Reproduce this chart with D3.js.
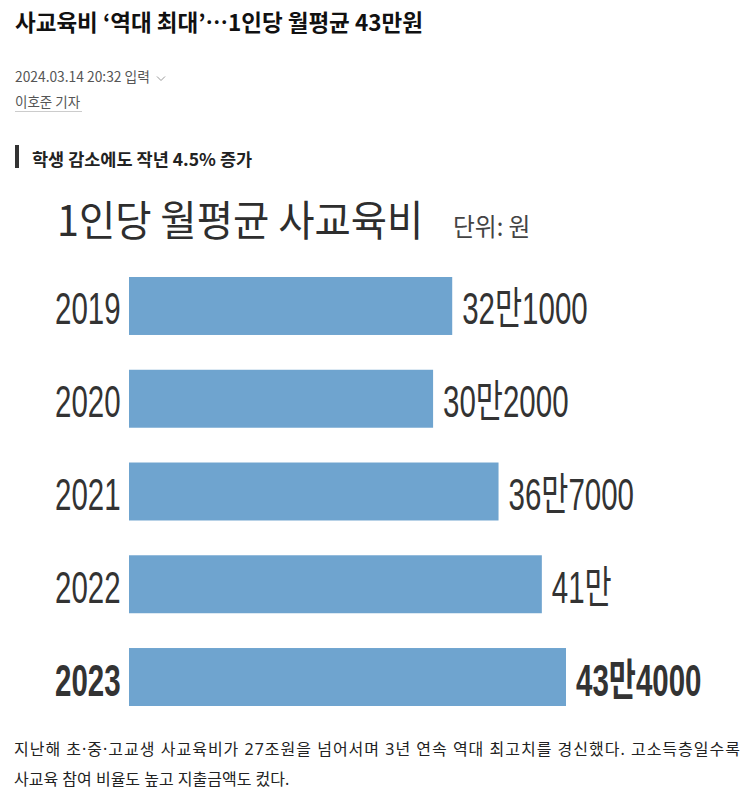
<!DOCTYPE html>
<html>
<head>
<meta charset="utf-8">
<style>
body { margin: 0; background: #fff; }
svg { display: block; }
text { font-family: "Noto Sans CJK KR", "Noto Sans", sans-serif; }
.num { font-family: "Liberation Sans", "Noto Sans CJK KR", sans-serif; fill: #333; }
.body { font-family: "Noto Sans", "Noto Sans CJK KR", sans-serif; }
.bar { fill: #6fa4cf; }
</style>
</head>
<body>
<svg width="746" height="802"></svg>
<script src="https://cdn.jsdelivr.net/npm/d3@7"></script>
<script>

// chart data
var years = ["2019", "2020", "2021", "2022", "2023"];
var spending = [321000, 302000, 367000, 410000, 434000];   // 1인당 월평균, 원
var valueLabels = ["32만1000", "30만2000", "36만7000", "41만", "43만4000"];
var highlightYear = "2023";

var headline = "사교육비 ‘역대 최대’…1인당 월평균 43만원";
var dateline = "2024.03.14 20:32 입력";
var byline = "이호준 기자";
var subhead = "학생 감소에도 작년 4.5% 증가";
var chartTitle = "1인당 월평균 사교육비";
var unitNote = "단위: 원";
var bodyLines = [
    "지난해 초·중·고교생 사교육비가 27조원을 넘어서며 3년 연속 역대 최고치를 경신했다. 고소득층일수록",
    "사교육 참여 비율도 높고 지출금액도 컸다."
];

var svg = d3.select("svg");

// article header
svg.append("text")
    .attr("x", 15).attr("y", 31)
    .attr("font-size", 22.5).attr("font-weight", 700).attr("fill", "#111")
    .text(headline);

svg.append("text")
    .attr("x", 15).attr("y", 82)
    .attr("font-size", 13.8).attr("fill", "#555")
    .text(dateline);

// little dropdown chevron after the date
svg.append("path")
    .attr("d", "M157,76.5 L161,80.5 L165,76.5")
    .attr("fill", "none").attr("stroke", "#999").attr("stroke-width", 1);

svg.append("text")
    .attr("x", 15).attr("y", 107)
    .attr("font-size", 13.5).attr("fill", "#555")
    .text(byline);
svg.append("line")
    .attr("x1", 15).attr("x2", 82).attr("y1", 111.5).attr("y2", 111.5)
    .attr("stroke", "#ccc").attr("stroke-width", 1);

svg.append("rect")
    .attr("x", 15).attr("y", 145).attr("width", 4).attr("height", 23)
    .attr("fill", "#333");
svg.append("text")
    .attr("x", 32).attr("y", 165.5)
    .attr("font-size", 17.5).attr("font-weight", 700).attr("fill", "#222")
    .text(subhead);

// chart
svg.append("text")
    .attr("transform", "translate(57,236) scale(0.94,1)")
    .attr("font-size", 42).attr("font-weight", 400).attr("fill", "#2e2e2e")
    .text(chartTitle);
svg.append("text")
    .attr("transform", "translate(453,236) scale(0.95,1)")
    .attr("font-size", 25).attr("fill", "#444")
    .text(unitNote);

var x = d3.scaleLinear()
    .domain([0, d3.max(spending)])
    .range([129, 566]);

var y = d3.scaleBand()
    .domain(years)
    .range([277, 706])
    .paddingInner(0.375)
    .paddingOuter(0);

var rows = years.map(function(yr, i) {
    return { year: yr, value: spending[i], label: valueLabels[i] };
});

var g = svg.append("g");

g.selectAll(".bar")
    .data(rows)
    .enter().append("rect")
    .attr("class", "bar")
    .attr("x", x(0))
    .attr("y", function(d) { return y(d.year); })
    .attr("width", function(d) { return x(d.value) - x(0); })
    .attr("height", y.bandwidth());

// condensed look of the graphic's numerals
var squeeze = 0.67;

g.selectAll(".year")
    .data(rows)
    .enter().append("text")
    .attr("class", "num year")
    .attr("transform", function(d) {
        return "translate(55," + (y(d.year) + y.bandwidth() / 2 + 18.5) + ") scale(" + squeeze + ",1)";
    })
    .attr("font-size", 44)
    .attr("font-weight", function(d) { return d.year === highlightYear ? 700 : 400; })
    .attr("fill", function(d) { return d.year === highlightYear ? "#222" : "#333"; })
    .text(function(d) { return d.year; });

g.selectAll(".value")
    .data(rows)
    .enter().append("text")
    .attr("class", "num value")
    .attr("transform", function(d) {
        return "translate(" + (x(d.value) + 10) + "," + (y(d.year) + y.bandwidth() / 2 + 18.5) + ") scale(" + squeeze + ",1)";
    })
    .attr("font-size", 44)
    .attr("font-weight", function(d) { return d.year === highlightYear ? 700 : 400; })
    .attr("fill", function(d) { return d.year === highlightYear ? "#222" : "#333"; })
    .text(function(d) { return d.label; });

// body copy under the graphic, justified like the article column
var colLeft = 14, colRight = 740;
svg.selectAll(".body")
    .data(bodyLines)
    .enter().append("text")
    .attr("class", "body")
    .attr("x", colLeft)
    .attr("y", function(d, i) { return 755 + i * 30; })
    .attr("font-size", 16).attr("fill", "#222")
    .text(function(d) { return d; })
    .each(function(d, i) {
        if (i === bodyLines.length - 1) return;   // last line stays ragged
        var extra = (colRight - colLeft) - this.getComputedTextLength();
        if (extra > 0) d3.select(this).attr("letter-spacing", extra / (d.length - 1));
    });

</script>
</body>
</html>
